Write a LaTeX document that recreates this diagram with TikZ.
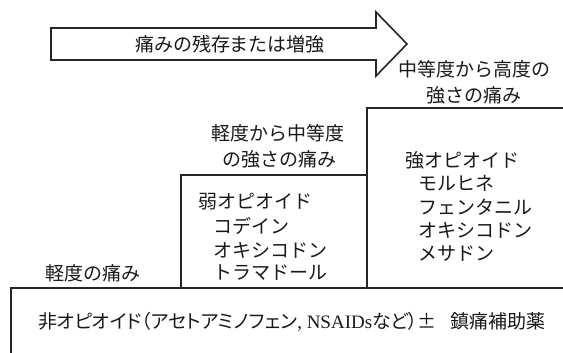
\documentclass[tikz,border=0pt]{standalone}
\usepackage{fontspec}
\setmainfont{Noto Sans CJK JP}
\newfontfamily\latinserif{Liberation Serif}
\newfontfamily\jpprop[RawFeature={+palt}]{Noto Sans CJK JP}
\tikzset{
  frame/.style={draw=black!85, line width=1.6pt, line join=miter},
  lbl/.style={inner sep=0pt, outer sep=0pt, font=\fontsize{19}{22}\selectfont, text=black!90},
  item/.style={lbl, anchor=west},
}
\begin{document}
\begin{tikzpicture}[x=1pt,y=-1pt]
\useasboundingbox (0,0) rectangle (563,353);
% arrow
\draw[frame] (51,28) -- (376,28) -- (376,12) -- (407,44) -- (376,76) -- (376,60) -- (51,60) -- cycle;
\node[lbl] (arrowtext) at (230,44) {痛みの残存または増強};
% steps
\draw[frame] (11,362) -- (11,288) -- (572,288);
\draw[frame] (181,288) -- (181,175) -- (367,175);
\draw[frame] (367,288) -- (367,108) -- (572,108);
% level labels
\node[lbl] (high1) at (474,69) {中等度から高度の};
\node[lbl] (high2) at (474,95) {強さの痛み};
\node[lbl] (mid1) at (278,133) {軽度から中等度};
\node[lbl] (mid2) at (279,159) {の強さの痛み};
\node[lbl] (low) at (93,273) {軽度の痛み};
% weak opioids
\node[item] (weak) at (198,202) {弱オピオイド};
\node[item] (codeine) at (213,226) {コデイン};
\node[item] (oxy1) at (213,250) {オキシコドン};
\node[item] (tram) at (213,273) {トラマドール};
% strong opioids
\node[item] (strong) at (405,160) {強オピオイド};
\node[item] (morph) at (418,183.5) {モルヒネ};
\node[item] (fent) at (418,207) {フェンタニル};
\node[item] (oxy2) at (418,230.5) {オキシコドン};
\node[item] (meth) at (418,254) {メサドン};
% base
\node[lbl, font=\fontsize{19}{22}\jpprop] (base) at (292,322) {非オピオイド（アセトアミノフェン{\latinserif , NSAIDs}など）±\hspace{14pt}鎮痛補助薬};
\end{tikzpicture}
\end{document}
